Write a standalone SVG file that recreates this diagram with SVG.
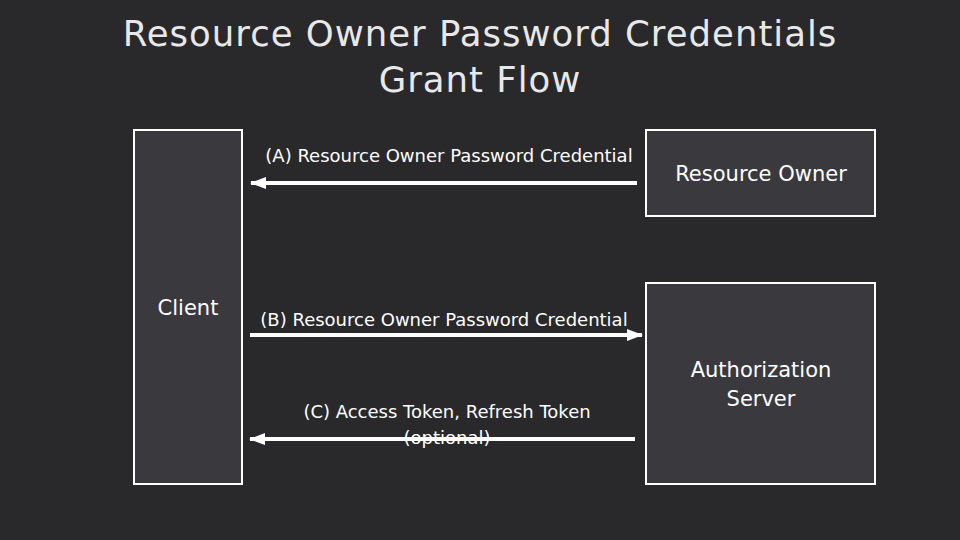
<svg xmlns="http://www.w3.org/2000/svg" width="960" height="540" viewBox="0 0 960 540">
<defs>
<marker id="ah" markerWidth="16" markerHeight="12" refX="15" refY="6" orient="auto" markerUnits="userSpaceOnUse"><path d="M0,0 L16,6 L0,12 Z" fill="#fff"/></marker>
</defs>
<style>
.box{fill:#3a393e;stroke:#fff;stroke-width:2}
.t{font-family:"DejaVu Sans",sans-serif;fill:#fff}
.ln{stroke:#fff;stroke-width:4}
</style>
<rect width="960" height="540" fill="#29292b"/>
<g class="t" font-size="35.5" text-anchor="middle" style="letter-spacing:1px">
<text x="480" y="46" fill="#e8e8e8">Resource Owner Password Credentials</text>
<text x="480" y="92" fill="#e8e8e8">Grant Flow</text>
</g>
<g id="client"><rect class="box" x="134" y="130" width="108" height="354"/><text class="t" x="188" y="315" font-size="21" text-anchor="middle">Client</text></g>
<g id="owner"><rect class="box" x="646" y="130" width="229" height="86"/><text class="t" x="761" y="181" font-size="21" text-anchor="middle">Resource Owner</text></g>
<g id="auth"><rect class="box" x="646" y="283" width="229" height="201"/><text class="t" x="761" y="377" font-size="21" text-anchor="middle">Authorization</text><text class="t" x="761" y="406" font-size="21" text-anchor="middle">Server</text></g>
<g id="connectors">
<line class="ln" x1="637" y1="183" x2="251" y2="183" marker-end="url(#ah)"/>
<line class="ln" x1="250" y1="335" x2="642" y2="335" marker-end="url(#ah)"/>
<line class="ln" x1="635" y1="439" x2="250" y2="439" marker-end="url(#ah)"/>
<g class="t" font-size="18" text-anchor="middle">
<text x="449" y="162">(A) Resource Owner Password Credential</text>
<text x="444" y="326">(B) Resource Owner Password Credential</text>
<text x="447" y="418">(C) Access Token, Refresh Token</text>
<text x="447" y="444">(optional)</text>
</g>
</g>
</svg>
